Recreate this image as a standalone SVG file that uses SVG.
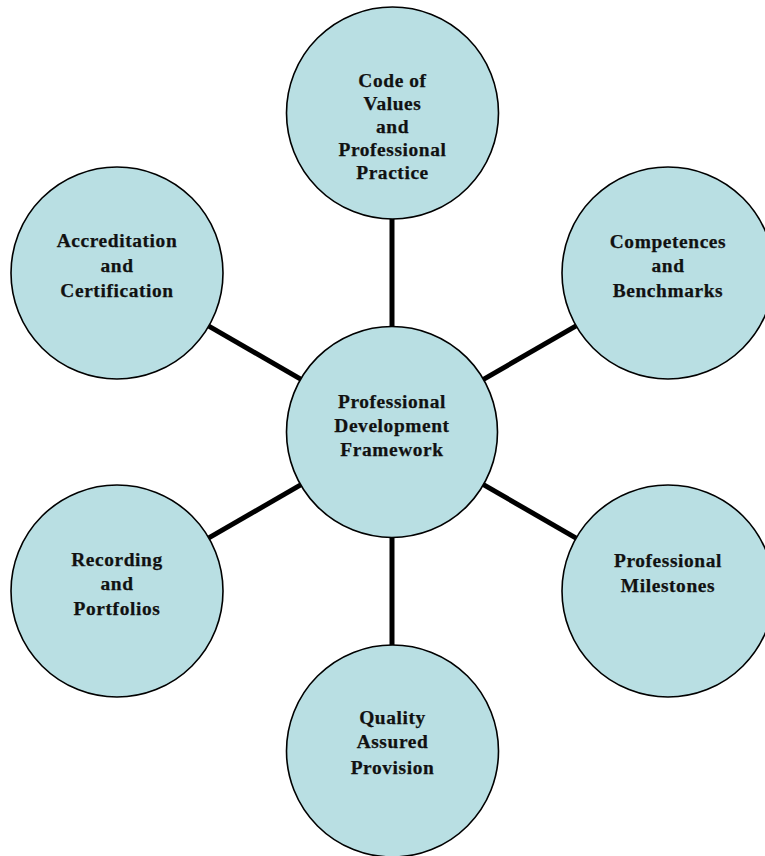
<svg xmlns="http://www.w3.org/2000/svg" width="765" height="856" viewBox="0 0 765 856">
<style>
.n{fill:#b9dfe3;stroke:#000;stroke-width:1.6}
.c{stroke:#000;stroke-width:5;fill:none}
text{font-family:"Liberation Serif","Times New Roman",serif;font-weight:bold;font-size:19.4px;letter-spacing:0.6px;text-anchor:middle;fill:#111;stroke:#111;stroke-width:0.25}
</style>
<rect width="765" height="856" fill="#fff"/>
<g id="connectors">
<line class="c" x1="392" y1="327" x2="392" y2="219"/>
<line class="c" x1="392" y1="537" x2="392" y2="645"/>
<line class="c" x1="483" y1="379.6" x2="576.1" y2="325.9"/>
<line class="c" x1="301.1" y1="379.4" x2="208.8" y2="326.1"/>
<line class="c" x1="301.1" y1="484.6" x2="208.8" y2="537.9"/>
<line class="c" x1="483" y1="484.4" x2="576.1" y2="538.1"/>
</g>
<g id="center">
<circle class="n" cx="392" cy="432" r="105.5"/>
<text x="392" y="408">Professional</text>
<text x="392" y="432">Development</text>
<text x="392" y="456">Framework</text>
</g>
<g id="code-of-values">
<circle class="n" cx="392.5" cy="113" r="106"/>
<text x="392.5" y="87">Code of</text>
<text x="392.5" y="110">Values</text>
<text x="392.5" y="133">and</text>
<text x="392.5" y="156">Professional</text>
<text x="392.5" y="179">Practice</text>
</g>
<g id="competences">
<circle class="n" cx="668" cy="273" r="106"/>
<text x="668" y="248">Competences</text>
<text x="668" y="272">and</text>
<text x="668" y="297">Benchmarks</text>
</g>
<g id="accreditation">
<circle class="n" cx="117" cy="273" r="106"/>
<text x="117" y="247">Accreditation</text>
<text x="117" y="272">and</text>
<text x="117" y="297">Certification</text>
</g>
<g id="recording">
<circle class="n" cx="117" cy="591" r="106"/>
<text x="117" y="566">Recording</text>
<text x="117" y="590">and</text>
<text x="117" y="615">Portfolios</text>
</g>
<g id="milestones">
<circle class="n" cx="668" cy="591" r="106"/>
<text x="668" y="567">Professional</text>
<text x="668" y="592">Milestones</text>
</g>
<g id="quality">
<circle class="n" cx="392.5" cy="751" r="106"/>
<text x="392.5" y="724">Quality</text>
<text x="392.5" y="748">Assured</text>
<text x="392.5" y="774">Provision</text>
</g>
</svg>
